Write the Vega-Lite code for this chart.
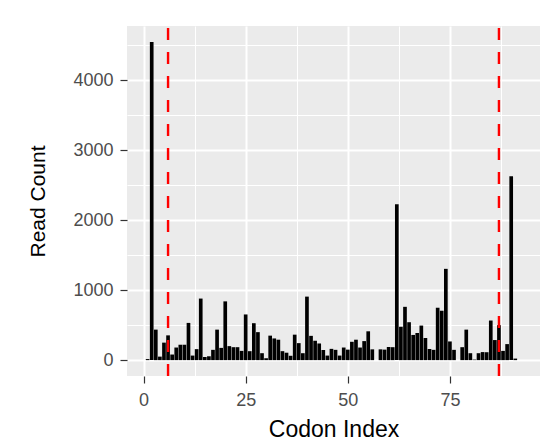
{
  "$schema": "https://vega.github.io/schema/vega-lite/v6.json",
  "autosize": {"type": "none"},
  "padding": {"left": 127, "top": 26, "right": 7, "bottom": 68},
  "width": 413,
  "height": 350,
  "background": "white",
  "config": {
    "view": {"fill": "#EBEBEB", "stroke": null},
    "font": "Liberation Sans",
    "axis": {
      "gridColor": "white",
      "domain": false,
      "tickColor": "#333333",
      "tickWidth": 1.2,
      "tickSize": 7,
      "labelColor": "#4D4D4D",
      "labelFont": "Liberation Sans",
      "labelFontSize": 18,
      "titleFont": "Liberation Sans",
      "titleFontSize": 22,
      "titleFontWeight": "normal",
      "titleColor": "black"
    }
  },
  "datasets": {
    "counts": [
      {"codon": 1, "count": 15}, {"codon": 2, "count": 4550}, {"codon": 3, "count": 436}, {"codon": 4, "count": 50},
      {"codon": 5, "count": 250}, {"codon": 6, "count": 354}, {"codon": 7, "count": 80}, {"codon": 8, "count": 180},
      {"codon": 9, "count": 220}, {"codon": 10, "count": 220}, {"codon": 11, "count": 532}, {"codon": 12, "count": 65},
      {"codon": 13, "count": 157}, {"codon": 14, "count": 880}, {"codon": 15, "count": 45}, {"codon": 16, "count": 55},
      {"codon": 17, "count": 147}, {"codon": 18, "count": 436}, {"codon": 19, "count": 175}, {"codon": 20, "count": 840},
      {"codon": 21, "count": 200}, {"codon": 22, "count": 185}, {"codon": 23, "count": 185}, {"codon": 24, "count": 132},
      {"codon": 25, "count": 653}, {"codon": 26, "count": 128}, {"codon": 27, "count": 528}, {"codon": 28, "count": 400},
      {"codon": 29, "count": 99}, {"codon": 30, "count": 27}, {"codon": 31, "count": 350}, {"codon": 32, "count": 310},
      {"codon": 33, "count": 292}, {"codon": 34, "count": 128}, {"codon": 35, "count": 106}, {"codon": 36, "count": 62},
      {"codon": 37, "count": 364}, {"codon": 38, "count": 243}, {"codon": 39, "count": 99}, {"codon": 40, "count": 908},
      {"codon": 41, "count": 347}, {"codon": 42, "count": 277}, {"codon": 43, "count": 238}, {"codon": 44, "count": 145},
      {"codon": 45, "count": 65}, {"codon": 46, "count": 161}, {"codon": 47, "count": 147}, {"codon": 48, "count": 65},
      {"codon": 49, "count": 180}, {"codon": 50, "count": 150}, {"codon": 51, "count": 262}, {"codon": 52, "count": 292},
      {"codon": 53, "count": 180}, {"codon": 54, "count": 272}, {"codon": 55, "count": 412}, {"codon": 56, "count": 154},
      {"codon": 57, "count": 0}, {"codon": 58, "count": 154}, {"codon": 59, "count": 150}, {"codon": 60, "count": 188},
      {"codon": 61, "count": 185}, {"codon": 62, "count": 2230}, {"codon": 63, "count": 477}, {"codon": 64, "count": 762},
      {"codon": 65, "count": 542}, {"codon": 66, "count": 360}, {"codon": 67, "count": 388}, {"codon": 68, "count": 494},
      {"codon": 69, "count": 316}, {"codon": 70, "count": 159}, {"codon": 71, "count": 147}, {"codon": 72, "count": 749},
      {"codon": 73, "count": 706}, {"codon": 74, "count": 1305}, {"codon": 75, "count": 267}, {"codon": 76, "count": 147},
      {"codon": 77, "count": 0}, {"codon": 78, "count": 185}, {"codon": 79, "count": 436}, {"codon": 80, "count": 99},
      {"codon": 81, "count": 8}, {"codon": 82, "count": 99}, {"codon": 83, "count": 115}, {"codon": 84, "count": 113},
      {"codon": 85, "count": 566}, {"codon": 86, "count": 287}, {"codon": 87, "count": 500}, {"codon": 88, "count": 132},
      {"codon": 89, "count": 229}, {"codon": 90, "count": 2630}, {"codon": 91, "count": 22}, {"codon": 92, "count": 0}
    ],
    "cuts": [{"codon": 6}, {"codon": 87}]
  },
  "layer": [
    {
      "data": {"name": "counts"},
      "mark": {"type": "bar", "color": "black", "width": 3.68, "orient": "vertical"},
      "encoding": {
        "x": {
          "field": "codon", "type": "quantitative",
          "scale": {"domain": [-4.05, 97.05], "nice": false, "zero": false, "padding": 0},
          "axis": {"values": [0, 25, 50, 75], "grid": true, "gridWidth": 2, "title": "Codon Index", "titleFontSize": 23, "labelPadding": 8, "titlePadding": 9, "orient": "bottom"}
        },
        "y": {
          "field": "count", "type": "quantitative",
          "scale": {"domain": [-227, 4777], "nice": false, "zero": false, "padding": 0},
          "axis": {"values": [0, 1000, 2000, 3000, 4000], "format": "d", "grid": true, "gridWidth": 2, "title": "Read Count", "titleFontSize": 21, "labelPadding": 7, "titlePadding": 24, "orient": "left"}
        },
        "y2": {"datum": 0}
      }
    },
    {
      "data": {"name": "cuts"},
      "mark": {"type": "rule", "color": "#FF0000", "strokeWidth": 2.4, "strokeDash": [12, 12]},
      "encoding": {
        "x": {
          "field": "codon", "type": "quantitative",
          "axis": {"values": [12.5, 37.5, 62.5, 87.5], "grid": true, "gridWidth": 1, "labels": false, "ticks": false, "title": null, "orient": "bottom"}
        },
        "y": {
          "datum": -227, "type": "quantitative",
          "axis": {"values": [500, 1500, 2500, 3500, 4500], "grid": true, "gridWidth": 1, "labels": false, "ticks": false, "title": null, "orient": "left"}
        },
        "y2": {"datum": 4777}
      }
    }
  ],
  "resolve": {"axis": {"x": "independent", "y": "independent"}}
}
